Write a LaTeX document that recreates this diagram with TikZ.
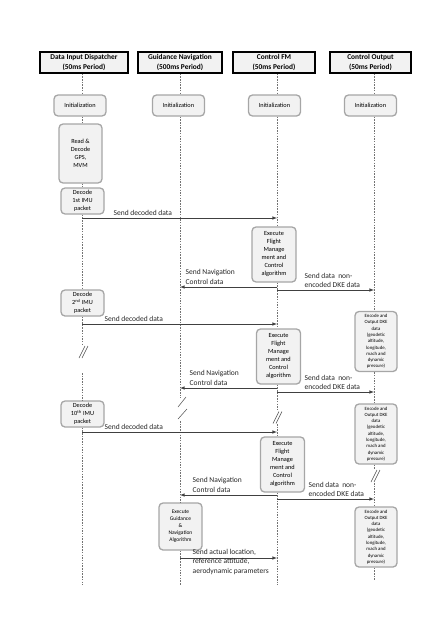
\documentclass[tikz,border=0pt]{standalone}
\usepackage{fontspec}
\setmainfont{Carlito}

\tikzset{
	head/.style={draw=black, line width=1.3pt, fill=black!5, align=center, inner sep=0pt, minimum height=21pt, font=\fontsize{7.4}{9.5}\selectfont\bfseries},
	actbox/.style={draw=black!35, line width=1.3pt, fill=black!5, rounded corners=4pt, align=center, inner sep=0pt, font=\fontsize{6.3}{8}\selectfont},
	encbox/.style={actbox, minimum width=42pt, minimum height=60pt, font=\fontsize{4.8}{6.3}\selectfont},
	life/.style={draw=black!55, line width=0.5pt, dash pattern=on 1.5pt off 1.2pt},
	msg/.style={-latex, draw=black!75, line width=0.6pt},
	lbl/.style={font=\fontsize{7.5}{9.3}\selectfont, align=left, anchor=south west, inner sep=0.5pt, text=black!85},
	cut/.style={draw=black!70, line width=0.5pt},
	brk/.pic={\draw[cut] (-4.5,6)--(1.5,-6) (-1.5,6)--(4.5,-6);}
}

\begin{document}
\begin{tikzpicture}[x=1pt,y=-1pt]
	\useasboundingbox (0,0) rectangle (446,632);
	
	\coordinate (L1) at (82,0);
	\coordinate (L2) at (180,0);
	\coordinate (L3) at (277,0);
	\coordinate (L4) at (374,0);
	
	\node[head, minimum width=88pt] (h1) at (84,62.5) {Data Input Dispatcher\\(50ms Period)};
	\node[head, minimum width=84pt] (h2) at (180,62.5) {Guidance Navigation\\(500ms Period)};
	\node[head, minimum width=82pt] (h3) at (274,62.5) {Control FM\\(50ms Period)};
	\node[head, minimum width=81pt] (h4) at (370.5,62.5) {Control Output\\(50ms Period)};
	
	\node[actbox, minimum width=52pt, minimum height=21pt] (i1) at (80,105.5) {Initialization};
	\node[actbox, minimum width=52pt, minimum height=21pt] (i2) at (178.5,105.5) {Initialization};
	\node[actbox, minimum width=52pt, minimum height=21pt] (i3) at (274.5,105.5) {Initialization};
	\node[actbox, minimum width=52pt, minimum height=21pt] (i4) at (370.5,105.5) {Initialization};
	
	\node[actbox, minimum width=43pt, minimum height=59pt] (rd) at (80.5,153.5) {Read \&\\Decode\\GPS,\\MVM};
	\node[actbox, minimum width=43pt, minimum height=26pt] (d1) at (82.5,201) {Decode\\1st IMU\\packet};
	\node[actbox, minimum width=43pt, minimum height=26pt] (d2) at (82.5,303) {Decode\\2\textsuperscript{nd} IMU\\packet};
	\node[actbox, minimum width=43pt, minimum height=26pt] (d10) at (82.5,414) {Decode\\10\textsuperscript{th} IMU\\packet};
	
	\node[actbox, minimum width=44pt, minimum height=55pt] (e1) at (274,254.5) {Execute\\Flight\\Manage\\ment and\\Control\\algorithm};
	\node[actbox, minimum width=44pt, minimum height=55pt] (e2) at (278.5,356.5) {Execute\\Flight\\Manage\\ment and\\Control\\algorithm};
	\node[actbox, minimum width=44pt, minimum height=55pt] (e3) at (282.5,464.5) {Execute\\Flight\\Manage\\ment and\\Control\\algorithm};
	
	\node[actbox, minimum width=43pt, minimum height=47pt, font=\fontsize{5.5}{7}\selectfont] (gn) at (180.5,526.5) {Execute\\Guidance\\\&\\Navigation\\Algorithm};
	
	\node[encbox] (o1) at (376,341.5) {Encode and\\Output DKE\\data\\(geodetic\\altitude,\\longitude,\\mach and\\dynamic\\pressure)};
	\node[encbox] (o2) at (376,434) {Encode and\\Output DKE\\data\\(geodetic\\altitude,\\longitude,\\mach and\\dynamic\\pressure)};
	\node[encbox] (o3) at (376,537) {Encode and\\Output DKE\\data\\(geodetic\\altitude,\\longitude,\\mach and\\dynamic\\pressure)};
	
	% lifelines
	\draw[life] (h1.south -| L1) -- (i1.north -| L1) (i1.south -| L1) -- (rd.north -| L1) (rd.south -| L1) -- (d1.north -| L1) (d1.south -| L1) -- (d2.north -| L1) (d2.south -| L1) -- (L1 |- 0,346) (L1 |- 0,373) -- (d10.north -| L1) (d10.south -| L1) -- (L1 |- 0,585);
	\draw[life] (h2.south -| L2) -- (i2.north -| L2) (i2.south -| L2) -- (L2 |- 0,398) (L2 |- 0,421) -- (gn.north -| L2) (gn.south -| L2) -- (L2 |- 0,585);
	\draw[life] (h3.south -| L3) -- (i3.north -| L3) (i3.south -| L3) -- (e1.north -| L3) (e1.south -| L3) -- (e2.north -| L3) (e2.south -| L3) -- (L3 |- 0,411) (L3 |- 0,424) -- (e3.north -| L3) (e3.south -| L3) -- (L3 |- 0,585);
	\draw[life] (h4.south -| L4) -- (i4.north -| L4) (i4.south -| L4) -- (o1.north -| L4) (o1.south -| L4) -- (o2.north -| L4) (o2.south -| L4) -- (L4 |- 0,469) (L4 |- 0,483) -- (o3.north -| L4) (o3.south -| L4) -- (L4 |- 0,580);
	
	\pic at (83.5,352) {brk};
	\pic at (277.5,417.5) {brk};
	\pic at (375.5,476) {brk};
	\draw[cut] (178,407) -- (186,397);
	\draw[cut] (178,419) -- (187,409);
	
	% messages
	\coordinate (r1) at (0,218);
	\coordinate (r2) at (0,287);
	\coordinate (r3) at (0,290);
	\coordinate (r4) at (0,324);
	\coordinate (r5) at (0,388);
	\coordinate (r6) at (0,392);
	\coordinate (r7) at (0,432);
	\coordinate (r8) at (0,495);
	\coordinate (r9) at (0,499);
	\coordinate (r10) at (0,558);
	
	\draw[msg] (L1 |- r1) -- (L3 |- r1);
	\draw[msg] (L3 |- r2) -- (L2 |- r2);
	\draw[msg] (L3 |- r3) -- (L4 |- r3);
	\draw[msg] (L1 |- r4) -- (L3 |- r4);
	\draw[msg] (L3 |- r5) -- (L2 |- r5);
	\draw[msg] (L3 |- r6) -- (L4 |- r6);
	\draw[msg] (L1 |- r7) -- (L3 |- r7);
	\draw[msg] (L3 |- r8) -- (L2 |- r8);
	\draw[msg] (L3 |- r9) -- (L4 |- r9);
	\draw[msg] (L2 |- r10) -- (L3 |- r10);
	
	\node[lbl] (t1) at (113,216) {Send decoded data};
	\node[lbl] (t2) at (185,285) {Send Navigation\\Control data};
	\node[lbl] (t3) at (304,288.5) {Send data~ non-\\encoded DKE data};
	\node[lbl] (t4) at (104,322) {Send decoded data};
	\node[lbl] (t5) at (189,386) {Send Navigation\\Control data};
	\node[lbl] (t6) at (304,390.5) {Send data~ non-\\encoded DKE data};
	\node[lbl] (t7) at (104,430) {Send decoded data};
	\node[lbl] (t8) at (192,493) {Send Navigation\\Control data};
	\node[lbl] (t9) at (308,497.5) {Send data~ non-\\encoded DKE data};
	\node[lbl, anchor=north west] (t10) at (192,548.5) {Send actual location,\\reference attitude,\\aerodynamic parameters};
	
\end{tikzpicture}
\end{document}
